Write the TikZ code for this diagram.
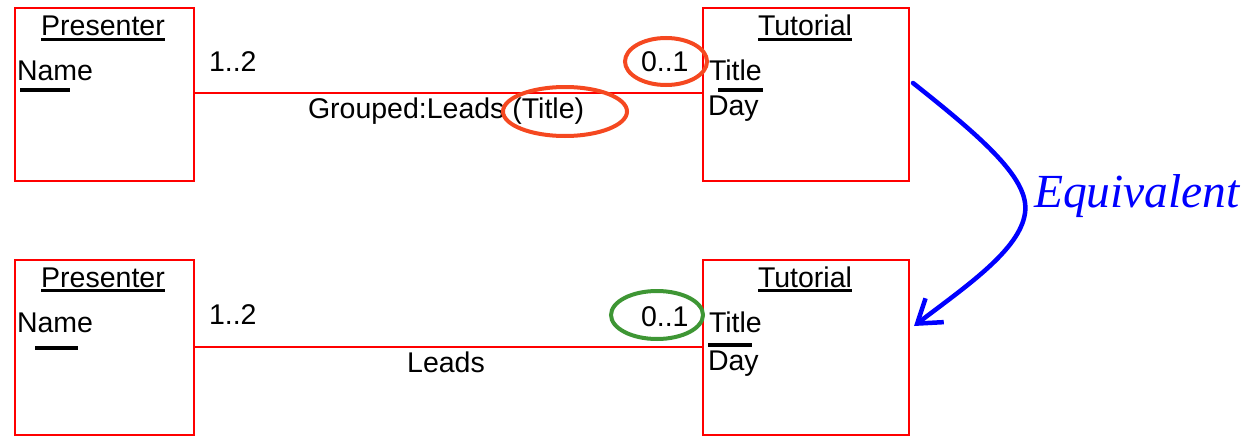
\documentclass[tikz,border=0pt]{standalone}
\usepackage{fontspec}
\setmainfont{Liberation Sans}
\newfontfamily\eqfont{Liberation Serif}
\usetikzlibrary{arrows.meta}
\definecolor{boxred}{RGB}{255,0,0}
\definecolor{hlorange}{RGB}{245,72,32}
\definecolor{hlgreen}{RGB}{62,150,52}
\definecolor{eqblue}{RGB}{0,0,255}
\begin{document}
\begin{tikzpicture}[x=1pt,y=-1pt,
  every node/.style={inner sep=0pt,outer sep=0pt,font=\fontsize{28.5}{33}\selectfont},
  entity/.style={draw=boxred,line width=2pt,anchor=north west,rectangle},
  assoc/.style={draw=boxred,line width=2pt},
  keybar/.style={line width=3.5pt,black},
  uline/.style={line width=2.2pt,black},
  ring/.style={line width=4pt}]
\useasboundingbox (0,0) rectangle (1252,436);
\clip (0,0) rectangle (1252,436);

% ---- upper model: grouped association ----
\node[entity,minimum width=179pt,minimum height=173pt] (p1) at (15,8) {};
\node[entity,minimum width=206pt,minimum height=173pt] (t1) at (703,8) {};
\coordinate (a1) at (194,93);
\coordinate (b1) at (703,93);
\draw[assoc] (a1) -- (b1);

\node[anchor=base] (p1t) at (103,36) {Presenter};
\draw[uline] ([yshift=-3.5pt]p1t.base west) -- ([yshift=-3.5pt]p1t.base east);
\node[anchor=base west] (p1n) at (17,80) {Name};
\draw[keybar] (20,90) -- (70,90);

\node[anchor=base] (t1t) at (805,36) {Tutorial};
\draw[uline] ([yshift=-3.5pt]t1t.base west) -- ([yshift=-3.5pt]t1t.base east);
\node[anchor=base west] (t1a) at (709,80) {Title};
\draw[keybar] (718,90) -- (763,90);
\node[anchor=base west] (t1b) at (708,115) {Day};

\node[anchor=base west] (m1a) at (209,71) {1..2};
\node[anchor=base west] (m1b) at (641,71) {0..1};
\node[anchor=base west] (lab1) at (308,118) {Grouped:Leads (Title)};

\draw[ring,hlorange] (666,61.5) ellipse [x radius=41pt,y radius=23.5pt];
\draw[ring,hlorange] (565,111.5) ellipse [x radius=62pt,y radius=24.5pt];

% ---- lower model: plain association ----
\node[entity,minimum width=179pt,minimum height=175pt] (p2) at (15,260) {};
\node[entity,minimum width=206pt,minimum height=175pt] (t2) at (703,260) {};
\coordinate (a2) at (194,347);
\coordinate (b2) at (703,347);
\draw[assoc] (a2) -- (b2);

\node[anchor=base] (p2t) at (103,287) {Presenter};
\draw[uline] ([yshift=-3.5pt]p2t.base west) -- ([yshift=-3.5pt]p2t.base east);
\node[anchor=base west] (p2n) at (17,332) {Name};
\draw[keybar] (35,348) -- (78,348);

\node[anchor=base] (t2t) at (805,287) {Tutorial};
\draw[uline] ([yshift=-3.5pt]t2t.base west) -- ([yshift=-3.5pt]t2t.base east);
\node[anchor=base west] (t2a) at (709,332) {Title};
\draw[keybar] (708,345) -- (752,345);
\node[anchor=base west] (t2b) at (708,370) {Day};

\node[anchor=base west] (m2a) at (209,324) {1..2};
\node[anchor=base west] (m2b) at (641,326) {0..1};
\node[anchor=base] (lab2) at (446,372) {Leads};

\draw[ring,hlgreen] (657,315) ellipse [x radius=46pt,y radius=24pt];

% ---- equivalence arrow ----
\coordinate (e0) at (913,83);
\coordinate (e1) at (1025,213);
\coordinate (e2) at (914,326);
\draw[eqblue,line width=4.5pt,line cap=round,
      -{Straight Barb[length=22pt,width=30pt,line width=4.5pt]}]
  (e0) .. controls (985,140) and (1030,180) .. (e1)
       .. controls (1020,250) and (965,287) .. (e2);
\node[anchor=base west,text=eqblue,font=\eqfont\itshape\fontsize{47.5}{52}\selectfont] (eq) at (1034,207) {Equivalent};
\end{tikzpicture}
\end{document}
